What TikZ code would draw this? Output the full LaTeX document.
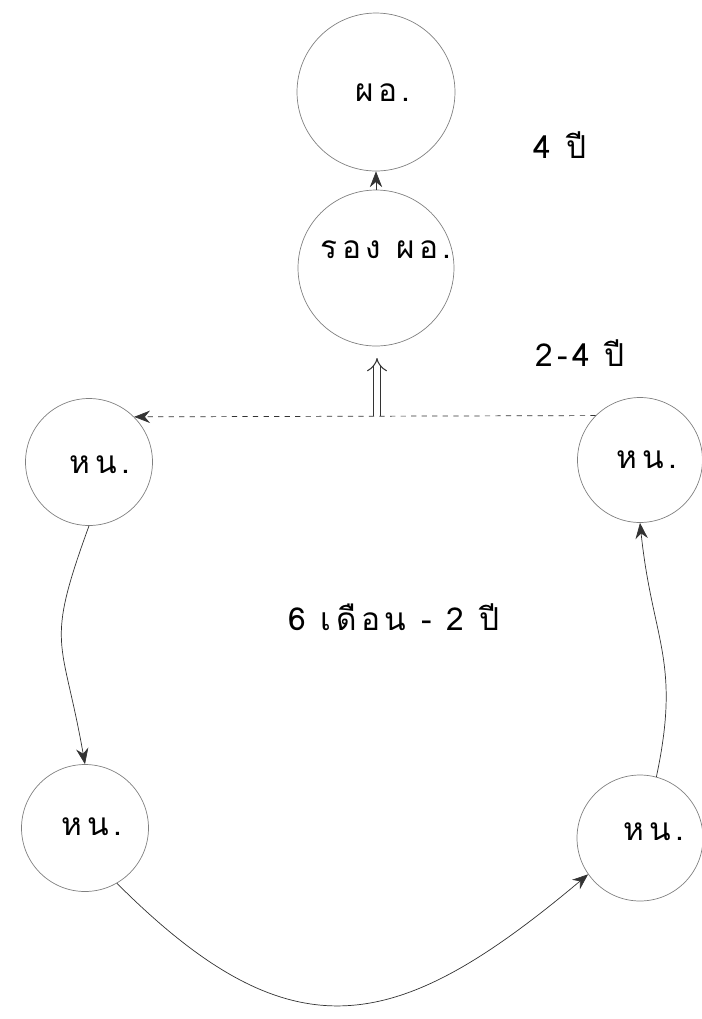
\documentclass[tikz,border=0pt]{standalone}
\usepackage{fontspec}
\newfontfamily\thaifont[Script=Thai,LetterSpace=14]{Loma}
\usetikzlibrary{arrows.meta}

\begin{document}
\begin{tikzpicture}[x=0.02cm,y=-0.02cm,
  ring/.style={circle,draw=black!50,thin,inner sep=0pt},
  conn/.style={draw=black!80,thin,-{Stealth[length=9pt,width=7pt]}},
  thai/.style={font=\thaifont\fontsize{18}{22}\selectfont,inner sep=1pt}]
  \useasboundingbox (0,0) rectangle (702,1019);

  % circles
  \node[ring,minimum size=3.16cm] (po) at (376,92) {};
  \node[ring,minimum size=3.12cm] (rong) at (376,268) {};
  \node[ring,minimum size=2.54cm] (hnL1) at (89,462) {};
  \node[ring,minimum size=2.50cm] (hnR1) at (640,460) {};
  \node[ring,minimum size=2.54cm] (hnL2) at (85,828) {};
  \node[ring,minimum size=2.52cm] (hnR2) at (640,838) {};

  % texts in the circles
  \node[thai] (poTxt) at (383,93) {ผอ.};
  \node[thai] (rongTxt) at (386,250) {รอง ผอ.};
  \node[thai] (hnL1Txt) at (100,465) {หน.};
  \node[thai] (hnR1Txt) at (647,460) {หน.};
  \node[thai] (hnL2Txt) at (92,827) {หน.};
  \node[thai] (hnR2Txt) at (654,832) {หน.};

  % terms
  \node[thai] (termPo) at (560,145) {4 ปี};
  \node[thai] (termRong) at (580,353) {2-4 ปี};
  \node[thai] (termHn) at (394,617) {6 เดือน - 2 ปี};

  % promotion
  \draw[conn] (rong) -- (po);
  \coordinate (fork) at (377,416);
  \coordinate (tip) at (377,358);
  \draw[draw=black!80,line width=0.6pt,double=white,double distance=3.5pt,-{Implies}] (fork) -- (tip);

  % rotation of the heads
  \draw[conn,dashed] (hnR1.135) -- (hnL1.45);
  \draw[conn] (hnL1.south) to[out=-110,in=100,looseness=1.4] (hnL2.north);
  \draw[conn] (hnL2.-60) to[out=-45,in=-140,looseness=1.35] (hnR2.215);
  \draw[conn] (hnR2.75) to[out=78,in=-84,looseness=1.2] (hnR1.south);
\end{tikzpicture}
\end{document}
